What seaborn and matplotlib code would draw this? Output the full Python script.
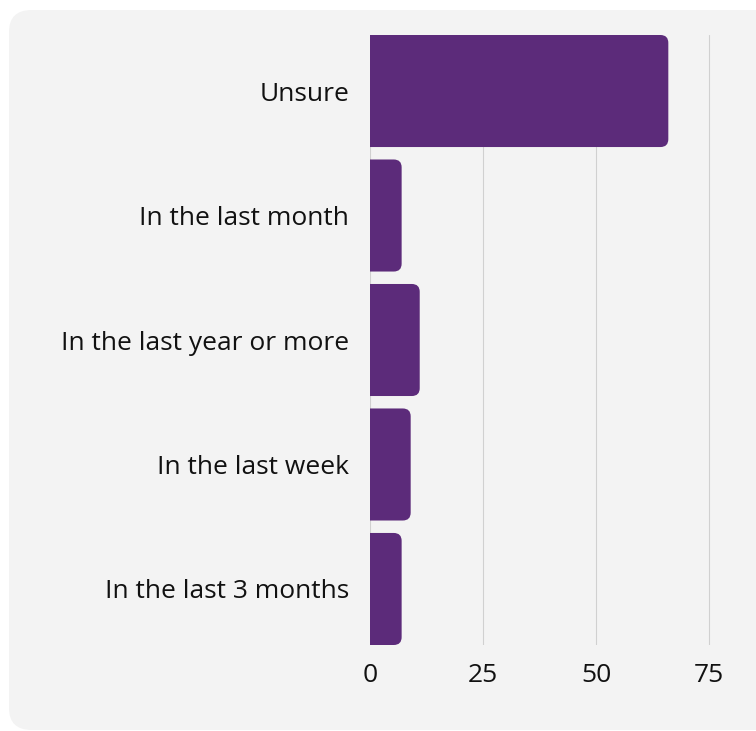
import matplotlib.pyplot as plt
import seaborn as sns
import pandas as pd
from matplotlib.patches import FancyBboxPatch

categories = ['Unsure', 'In the last month', 'In the last year or more',
              'In the last week', 'In the last 3 months']
values = [66, 7, 11, 9, 7]
x_ticks = [0, 25, 50, 75]

df = pd.DataFrame({'When': categories, 'Count': values})

sns.set_style('white')
plt.rcParams['font.family'] = ['Open Sans', 'DejaVu Sans']

fig = plt.figure(figsize=(7.56, 7.31), dpi=100)
fig.patch.set_facecolor('white')

# light grey rounded card behind the chart
card = FancyBboxPatch((9 / 756, 1 / 731), 1.2, 720 / 731,
                      boxstyle='round,pad=0,rounding_size=0.03',
                      transform=fig.transFigure, facecolor='#f3f3f3',
                      edgecolor='none', zorder=-10)
fig.patches.append(card)

ax = fig.add_axes([370 / 756, 86 / 731, 361.6 / 756, 610 / 731])
ax.set_facecolor('none')
ax.set_zorder(5)

sns.barplot(data=df, x='Count', y='When', orient='h', color='#5c2b7a',
            saturation=1, width=0.9, ax=ax)

ax.set_xlim(0, 80)
ax.set_ylim(4.45, -0.45)

# swap the plain bars for bars with rounded right ends
for p in list(ax.patches):
    x0, y0 = p.get_x(), p.get_y()
    w, h = p.get_width(), p.get_height()
    r = 1.75
    rb = FancyBboxPatch((x0 - 3, y0), w + 3, h,
                        boxstyle='round,pad=0,rounding_size={}'.format(r),
                        mutation_aspect=0.036,
                        facecolor='#5c2b7a', edgecolor='none', zorder=3)
    ax.add_patch(rb)
    p.remove()

ax.set_xticks(x_ticks)
ax.grid(axis='x', color='#d0d0d0', linewidth=0.8, zorder=0)
ax.set_axisbelow(True)
sns.despine(ax=ax, left=True, bottom=True, top=True, right=True)
ax.tick_params(axis='both', length=0, labelsize=19, colors='#111111')
ax.tick_params(axis='y', pad=15)
ax.tick_params(axis='x', pad=13)
ax.set_xlabel('')
ax.set_ylabel('')

fig.savefig('out.png', dpi=100)
